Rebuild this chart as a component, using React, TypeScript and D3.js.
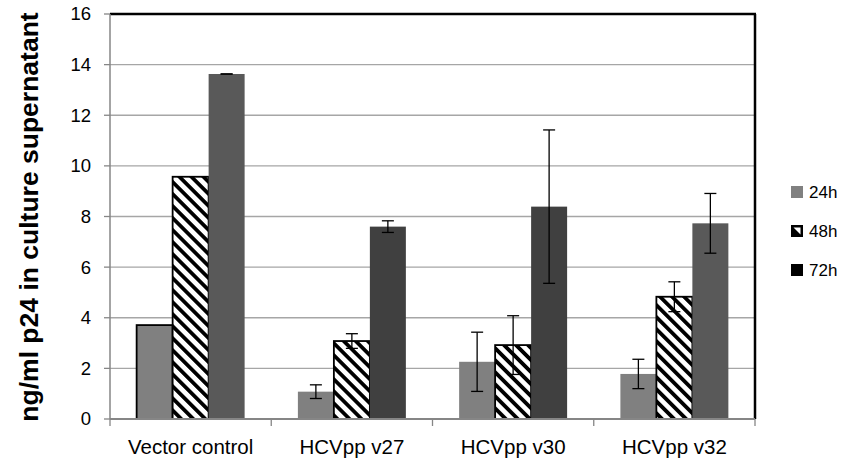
import React from "react";
import * as d3 from "d3";

const categories = ["Vector control", "HCVpp v27", "HCVpp v30", "HCVpp v32"];
const seriesNames = ["24h", "48h", "72h"];
const values24 = [3.71, 1.08, 2.26, 1.78];
const values48 = [9.57, 3.08, 2.92, 4.83];
const values72 = [13.63, 7.6, 8.39, 7.73];
const errors24: (number | null)[] = [null, 0.27, 1.17, 0.58];
const errors48: (number | null)[] = [null, 0.29, 1.16, 0.59];
const errors72: (number | null)[] = [0.0, 0.23, 3.03, 1.18];
const yTicks = [0, 2, 4, 6, 8, 10, 12, 14, 16];
const yTitle = "ng/ml p24 in culture supernatant";

const W = 846;
const H = 460;
const M = { left: 110, right: 755, top: 14, bottom: 419 };

const fill24 = ["#808080", "#808080", "#808080", "#808080"];
const fill72 = ["#595959", "#404040", "#404040", "#595959"];
const stroke24 = ["#000", "none", "none", "none"];

export default function App() {
  const x0 = d3.scaleBand<string>().domain(categories).range([M.left, M.right]).padding(0);
  const x1 = d3
    .scaleBand<string>()
    .domain(seriesNames)
    .range([0, x0.bandwidth()])
    .paddingInner(0)
    .paddingOuter(0.74);
  const y = d3.scaleLinear().domain([0, 16]).range([M.bottom, M.top]);

  const series = [
    { name: "24h", vals: values24, errs: errors24 },
    { name: "48h", vals: values48, errs: errors48 },
    { name: "72h", vals: values72, errs: errors72 },
  ];

  const font = "'Liberation Sans', Arial, sans-serif";
  const boundaries = [...categories.map((c) => x0(c)!), M.right];

  return (
    <svg width={W} height={H} style={{ position: "absolute", left: 0, top: 0, background: "#fff" }}>
      <defs>
        <pattern
          id="stripes"
          patternUnits="userSpaceOnUse"
          width={8.5}
          height={8.5}
          patternTransform="rotate(-45)"
        >
          <rect x={0} y={0} width={8.5} height={8.5} fill="#fff" />
          <rect x={0} y={0} width={3.8} height={8.5} fill="#000" />
        </pattern>
      </defs>
      <rect x={0} y={0} width={W} height={H} fill="#fff" />

      {/* gridlines */}
      {yTicks.map((t) =>
        t === 0 ? null : (
          <line key={"g" + t} x1={M.left} x2={M.right} y1={y(t)} y2={y(t)} stroke="#a6a6a6" strokeWidth={1.3} />
        )
      )}

      {/* bars */}
      {series.map((s) =>
        categories.map((c, i) => {
          const bx = x0(c)! + x1(s.name)!;
          const bw = x1.bandwidth();
          const by = y(s.vals[i]);
          const bh = y(0) - by;
          let fill = "#808080";
          let stroke = "none";
          if (s.name === "24h") {
            fill = fill24[i];
            stroke = stroke24[i];
          } else if (s.name === "48h") {
            fill = "url(#stripes)";
            stroke = "#000";
          } else {
            fill = fill72[i];
          }
          return (
            <rect
              key={s.name + c}
              x={bx}
              y={by}
              width={bw}
              height={bh}
              fill={fill}
              stroke={stroke}
              strokeWidth={stroke === "none" ? 0 : 1.8}
            />
          );
        })
      )}

      {/* error bars */}
      {series.map((s) =>
        categories.map((c, i) => {
          const e = s.errs[i];
          if (e === null) return null;
          const cx = x0(c)! + x1(s.name)! + x1.bandwidth() / 2;
          const yt = y(s.vals[i] + e);
          const yb = y(s.vals[i] - e);
          return (
            <g key={"e" + s.name + c} stroke="#000" strokeWidth={1.3}>
              <line x1={cx} x2={cx} y1={yt} y2={yb} />
              <line x1={cx - 6} x2={cx + 6} y1={yt} y2={yt} />
              <line x1={cx - 6} x2={cx + 6} y1={yb} y2={yb} />
            </g>
          );
        })
      )}

      {/* frame top/right */}
      <line x1={M.left} x2={M.right + 1} y1={M.top} y2={M.top} stroke="#000" strokeWidth={2.5} />
      <line x1={M.right} x2={M.right} y1={M.top} y2={M.bottom} stroke="#000" strokeWidth={2.5} />

      {/* y axis */}
      <line x1={M.left} x2={M.left} y1={M.top} y2={M.bottom} stroke="#868686" strokeWidth={1.5} />
      {yTicks.map((t) => (
        <g key={"t" + t}>
          <line x1={M.left - 6} x2={M.left} y1={y(t)} y2={y(t)} stroke="#868686" strokeWidth={1.3} />
          <text
            x={91}
            y={y(t)}
            dy="0.35em"
            textAnchor="end"
            fontFamily={font}
            fontSize={18.5}
            fill="#000"
          >
            {t}
          </text>
        </g>
      ))}

      {/* x axis */}
      <line x1={M.left} x2={M.right} y1={M.bottom} y2={M.bottom} stroke="#868686" strokeWidth={1.8} />
      {boundaries.map((b, i) => (
        <line key={"xb" + i} x1={b} x2={b} y1={M.bottom} y2={M.bottom + 7} stroke="#868686" strokeWidth={1.3} />
      ))}
      {categories.map((c) => (
        <text
          key={"xl" + c}
          x={x0(c)! + x0.bandwidth() / 2}
          y={454}
          textAnchor="middle"
          fontFamily={font}
          fontSize={20.5}
          fill="#000"
        >
          {c}
        </text>
      ))}

      {/* y title */}
      <text
        transform={`translate(38, ${217}) rotate(-90)`}
        textAnchor="middle"
        fontFamily={font}
        fontWeight="bold"
        fontSize={26.5}
        fill="#000"
      >
        {yTitle}
      </text>

      {/* legend */}
      {seriesNames.map((n, i) => {
        const ly = 192 + i * 39;
        return (
          <g key={"lg" + n}>
            {n === "24h" && <rect x={791} y={ly - 6} width={12} height={12} fill="#808080" />}
            {n === "48h" && (
              <g>
                <rect x={791} y={ly - 6} width={12} height={12} fill="#000" />
                <path d={`M${793.5} ${ly - 3.5} L${800.5} ${ly - 3.5} L${800.5} ${ly + 3.5} Z`} fill="#fff" />
                <path d={`M${793.5} ${ly - 3.5} L${793.5} ${ly + 1} L${797} ${ly + 3.5} Z`} fill="#fff" opacity={0} />
              </g>
            )}
            {n === "72h" && <rect x={791} y={ly - 6} width={12} height={12} fill="#000" />}
            <text x={809} y={ly} dy="0.35em" fontFamily={font} fontSize={17} fill="#000">
              {n}
            </text>
          </g>
        );
      })}
    </svg>
  );
}
